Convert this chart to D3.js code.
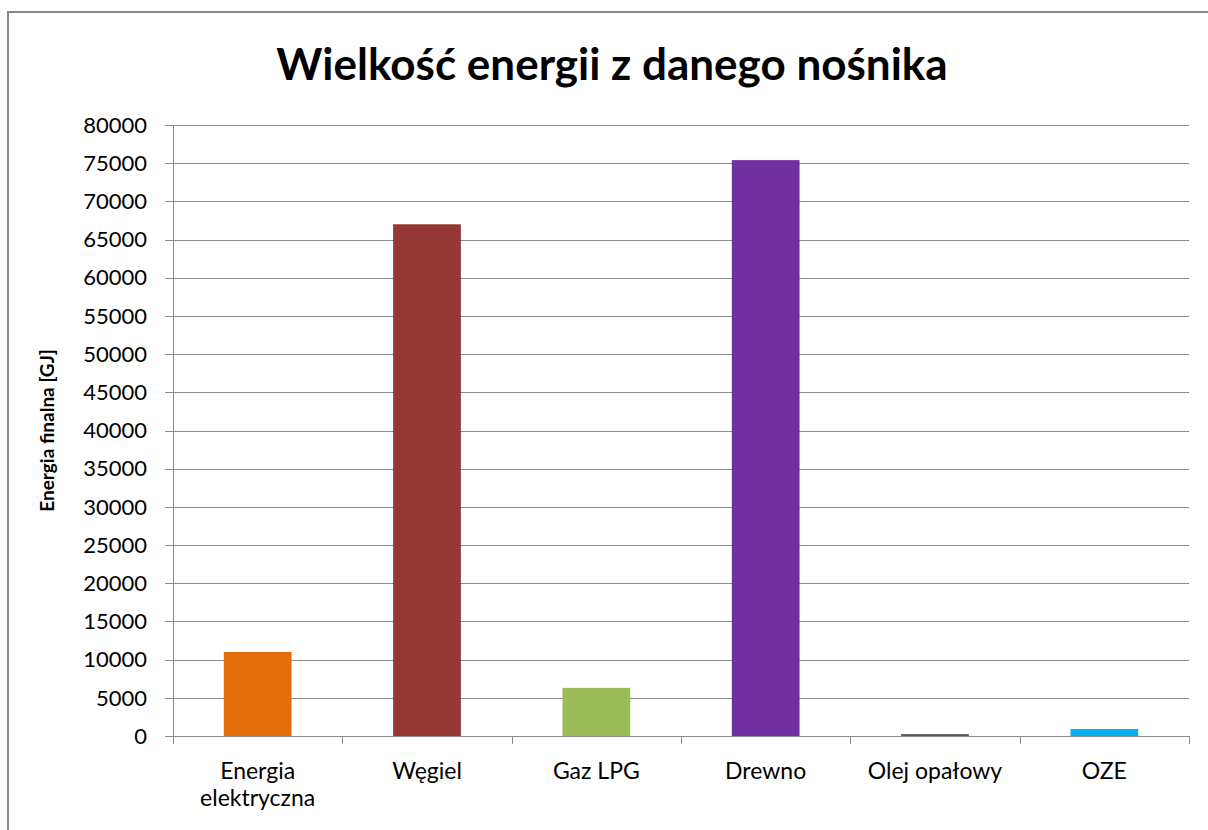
<!DOCTYPE html>
<html>
<head>
<meta charset="utf-8">
<script src="https://cdn.jsdelivr.net/npm/d3@7"></script>
<style>
  body { margin: 0; background: #fff; }
  svg text { font-family: Lato, "Open Sans", sans-serif; fill: #000; }
</style>
</head>
<body>
<div id="chart"></div>
<script>
// Chart data
const categories = [["Energia", "elektryczna"], ["Węgiel"], ["Gaz LPG"], ["Drewno"], ["Olej opałowy"], ["OZE"]];
const values = [11000, 67000, 6300, 75400, 250, 920];
const barColors = ["#E46C0A", "#953735", "#9BBB59", "#7030A0", "#595959", "#00B0F0"];
const yTicks = d3.range(0, 80001, 5000);

const width = 1208, height = 830;
const margin = {top: 125, right: 19, bottom: 94, left: 173};

const svg = d3.select("#chart").append("svg")
    .attr("width", width)
    .attr("height", height);

// outer chart border (cut off at right and bottom)
svg.append("rect")
    .attr("x", 8).attr("y", 12)
    .attr("width", 1220).attr("height", 840)
    .attr("fill", "none")
    .attr("stroke", "#868686")
    .attr("stroke-width", 2);

const x = d3.scaleBand()
    .domain(d3.range(categories.length))
    .range([margin.left, width - margin.right])
    .paddingInner(0.6)
    .paddingOuter(0.3);

const xTicks = d3.scaleBand()
    .domain(d3.range(categories.length))
    .range([margin.left, width - margin.right]);

const y = d3.scaleLinear()
    .domain([0, 80000])
    .range([height - margin.bottom, margin.top]);

// gridlines + left ticks
svg.append("g")
    .selectAll("line")
    .data(yTicks)
    .join("line")
    .attr("x1", margin.left - 8)
    .attr("x2", width - margin.right)
    .attr("y1", d => Math.round(y(d)) + 0.5)
    .attr("y2", d => Math.round(y(d)) + 0.5)
    .attr("stroke", "#8c8c8c")
    .attr("stroke-width", 1);

// y axis line
svg.append("line")
    .attr("x1", margin.left + 0.5).attr("x2", margin.left + 0.5)
    .attr("y1", margin.top).attr("y2", y(0) + 8)
    .attr("stroke", "#8c8c8c");

// tick labels
svg.append("g")
    .selectAll("text")
    .data(yTicks)
    .join("text")
    .attr("x", 147)
    .attr("y", d => y(d))
    .attr("dy", "0.35em")
    .attr("text-anchor", "end")
    .style("font-size", "22px")
    .text(d => d);

// bars
svg.append("g")
    .selectAll("rect")
    .data(values)
    .join("rect")
    .attr("x", (d, i) => x(i))
    .attr("width", x.bandwidth())
    .attr("y", d => y(d))
    .attr("height", d => y(0) - y(d))
    .attr("fill", (d, i) => barColors[i]);

// x axis line and category ticks
svg.append("line")
    .attr("x1", margin.left).attr("x2", width - margin.right)
    .attr("y1", Math.round(y(0)) + 0.5).attr("y2", Math.round(y(0)) + 0.5)
    .attr("stroke", "#8c8c8c");

const bounds = d3.range(categories.length + 1).map(i => margin.left + i * xTicks.step());
svg.append("g")
    .selectAll("line")
    .data(bounds)
    .join("line")
    .attr("x1", d => Math.round(d) + 0.5)
    .attr("x2", d => Math.round(d) + 0.5)
    .attr("y1", y(0))
    .attr("y2", y(0) + 8)
    .attr("stroke", "#8c8c8c");

// category labels
const catLabels = svg.append("g")
    .selectAll("text")
    .data(categories)
    .join("text")
    .attr("text-anchor", "middle")
    .attr("x", (d, i) => xTicks(i) + xTicks.bandwidth() / 2)
    .attr("y", 779)
    .style("font-size", "23px");

catLabels.selectAll("tspan")
    .data(d => d)
    .join("tspan")
    .attr("x", function() { return d3.select(this.parentNode).attr("x"); })
    .attr("dy", (d, i) => i === 0 ? 0 : 27)
    .text(d => d);

// title
svg.append("text")
    .attr("x", 612)
    .attr("y", 80)
    .attr("text-anchor", "middle")
    .style("font-size", "44px")
    .style("font-weight", "bold")
    .text("Wielkość energii z danego nośnika");

// y axis title
svg.append("text")
    .attr("transform", `translate(54, ${(margin.top + y(0)) / 2}) rotate(-90)`)
    .attr("text-anchor", "middle")
    .style("font-size", "19px")
    .style("font-weight", "bold")
    .text("Energia finalna [GJ]");
</script>
</body>
</html>
